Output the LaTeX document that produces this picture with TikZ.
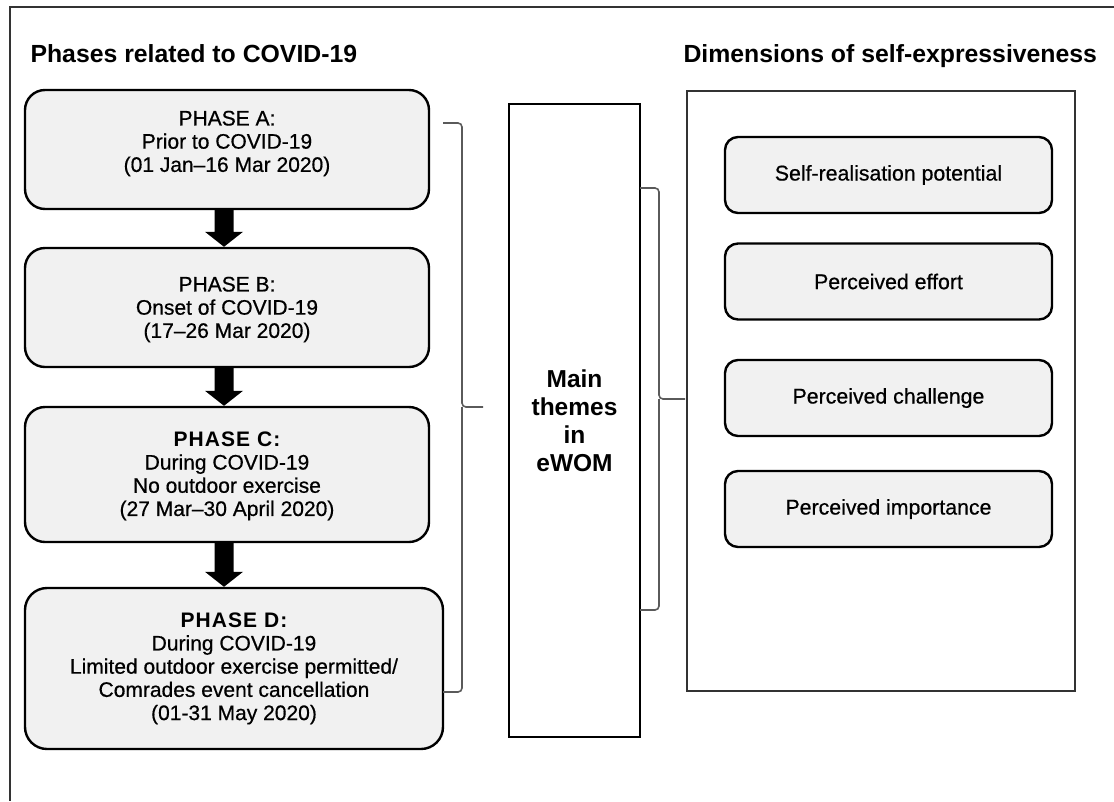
\documentclass[tikz,border=0pt]{standalone}
\usepackage{fontspec}
\setmainfont{Liberation Sans}
\newfontfamily\spacedhead[LetterSpace=5]{Liberation Sans}
\newfontfamily\boxfont[FakeBold=0.6]{Liberation Sans}
\usetikzlibrary{calc}

\definecolor{boxgrey}{HTML}{F1F1F1}
\definecolor{inkgrey}{HTML}{333333}
\definecolor{bracegrey}{HTML}{5A5A5A}

% block arrow pointing down from one phase box to the next
\newcommand\phasearrow[2]{%
  \fill[black]
    ($(arrowx |- #1.south)+(-9.5,0)$) --
    ($(arrowx |- #2.north)+(-9.5,-15)$) --
    ($(arrowx |- #2.north)+(-19,-15)$) --
    (arrowx |- #2.north) --
    ($(arrowx |- #2.north)+(19,-15)$) --
    ($(arrowx |- #2.north)+(9.5,-15)$) --
    ($(arrowx |- #1.south)+(9.5,0)$) -- cycle;}

\begin{document}
\begin{tikzpicture}[x=1pt,y=-1pt,
  heading/.style={anchor=base west,font=\fontsize{24.8}{28}\selectfont\bfseries,text=black},
  phasebox/.style={draw=black,line width=2.4pt,fill=boxgrey,rounded corners=20pt,
    minimum width=404pt,inner sep=0pt},
  phasetext/.style={align=center,font=\boxfont\fontsize{21}{23.2}\selectfont,text=black,inner sep=0pt},
  themebox/.style={draw=black,line width=2.5pt,fill=white,minimum width=131pt,
    minimum height=633pt,align=center,inner sep=0pt,
    font=\fontsize{24.5}{28}\selectfont\bfseries},
  dimframe/.style={draw=inkgrey,line width=1.4pt,minimum width=388pt,minimum height=600pt,inner sep=0pt},
  dimbox/.style={draw=black,line width=2.4pt,fill=boxgrey,rounded corners=13pt,
    minimum width=327pt,minimum height=76pt,inner sep=0pt,
    font=\boxfont\fontsize{21.3}{24}\selectfont,text=black},
  bracket/.style={draw=bracegrey,line width=1.6pt,rounded corners=4pt},
  frameline/.style={draw=inkgrey,line width=1.5pt}]

\useasboundingbox (0,0) rectangle (1114,801);
\fill[white] (0,0) rectangle (1114,801);

% outer frame (top and left edges)
\coordinate (frameTR) at (1114,7);
\coordinate (frameTL) at (10,7);
\coordinate (frameBL) at (10,801);
\draw[frameline] (frameTR) -- (frameTL) -- (frameBL);

% headings
\node[heading] (phasetitle) at (27,62) {Phases related to COVID-19};
\node[heading] (dimtitle) at (680,62) {Dimensions of self-expressiveness};

% phase boxes
\node[phasebox,minimum height=119pt] (A) at (227,149.5) {};
\node[phasebox,minimum height=119pt] (B) at (227,307.5) {};
\node[phasebox,minimum height=135pt] (C) at (227,474.5) {};
\node[phasebox,minimum height=161pt,minimum width=418pt,rounded corners=22pt] (D) at (234,668.5) {};

\node[phasetext] (Atext) at ([yshift=6pt]A.center)
  {PHASE A:\\Prior to COVID-19\\(01 Jan–16 Mar 2020)};
\node[phasetext] (Btext) at ([yshift=-2pt]B.center)
  {PHASE B:\\Onset of COVID-19\\(17–26 Mar 2020)};
\node[phasetext] (Ctext) at ([yshift=-1.5pt]C.center)
  {{\spacedhead\bfseries PHASE C:}\\During COVID-19\\No outdoor exercise\\(27 Mar–30 April 2020)};
\node[phasetext] (Dtext) at (D.center)
  {{\spacedhead\bfseries PHASE D:}\\During COVID-19\\Limited outdoor exercise permitted/\\Comrades event cancellation\\(01-31 May 2020)};

% arrows between phases
\coordinate (arrowx) at (224,0);
\phasearrow{A}{B}
\phasearrow{B}{C}
\phasearrow{C}{D}

% bracket grouping the phases
\coordinate (b1top) at (443,123);
\coordinate (b1bot) at (443,692);
\coordinate (b1mid) at (462,407);
\coordinate (b1tip) at (483,407);
\draw[bracket] (b1top) -| (b1mid) -- (b1tip);
\draw[bracket] (b1bot) -| (b1mid);

% central themes box
\node[themebox] (ewom) at (574.5,420.5) {Main\\themes\\in\\eWOM};

% bracket from the themes box to the dimensions
\coordinate (b2top) at (640,188);
\coordinate (b2bot) at (640,610);
\coordinate (b2mid) at (659,399);
\coordinate (b2tip) at (685,399);
\draw[bracket] (b2top) -| (b2mid) -- (b2tip);
\draw[bracket] (b2bot) -| (b2mid);

% dimensions of self-expressiveness
\node[dimframe] (dims) at (881,391) {};
\node[dimbox] (selfreal) at (888.5,175) {Self-realisation potential};
\node[dimbox] (effort) at (888.5,281.5) {Perceived effort};
\node[dimbox] (challenge) at (888.5,398) {Perceived challenge};
\node[dimbox] (importance) at (888.5,509) {Perceived importance};

\end{tikzpicture}
\end{document}
